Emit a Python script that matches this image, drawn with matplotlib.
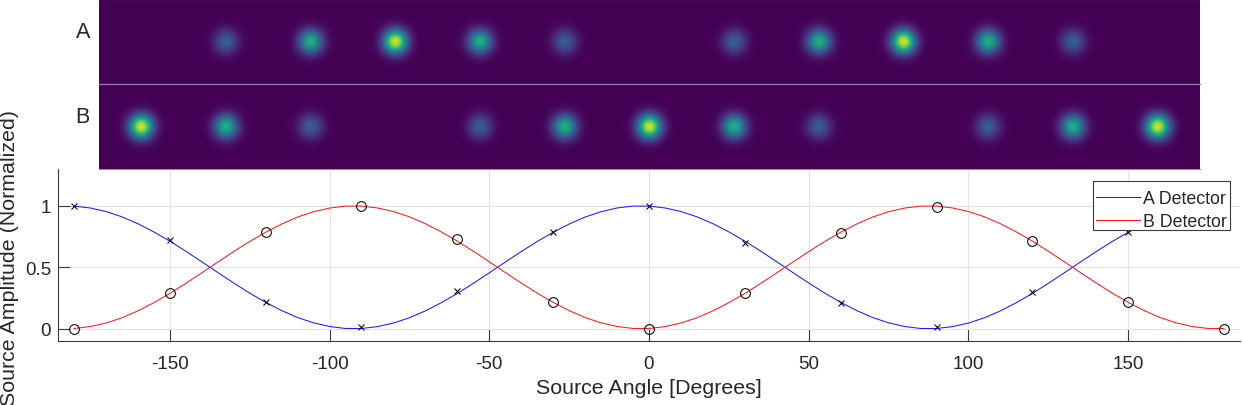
import numpy as np
import matplotlib
matplotlib.use("Agg")
import matplotlib.pyplot as plt
import matplotlib.transforms as mtransforms
from matplotlib.patches import Rectangle

plt.rcParams['font.family'] = ['Liberation Sans', 'DejaVu Sans']
plt.rcParams['axes.unicode_minus'] = False

# ---------------- data ----------------
# smooth detector response curves, read every 5 degrees
curve_angle = list(range(-180, 181, 5))
_a_half = [0.998, 0.983, 0.954, 0.911, 0.855, 0.788, 0.713, 0.631, 0.545, 0.458,
           0.372, 0.290, 0.215, 0.148, 0.091, 0.048, 0.018, 0.002, 0.002, 0.017,
           0.046, 0.089, 0.145, 0.212, 0.287, 0.369, 0.455, 0.542, 0.628, 0.710,
           0.785, 0.852, 0.909, 0.952, 0.983, 0.998]
_b_half = [0.002, 0.017, 0.046, 0.089, 0.145, 0.212, 0.287, 0.369, 0.455, 0.542,
           0.628, 0.710, 0.785, 0.852, 0.909, 0.952, 0.982, 0.998, 0.998, 0.983,
           0.954, 0.911, 0.855, 0.788, 0.713, 0.631, 0.545, 0.458, 0.372, 0.290,
           0.215, 0.148, 0.091, 0.048, 0.018, 0.002]
curve_A = _a_half + _a_half + [0.998]
curve_B = _b_half + _b_half + [0.002]

# measured samples every 30 degrees
meas_angle = [-180, -150, -120, -90, -60, -30, 0, 30, 60, 90, 120, 150, 180]
meas_A = [1.00, 0.72, 0.22, 0.01, 0.31, 0.79, 1.00, 0.70, 0.21, 0.01, 0.30, 0.79, 1.00]
meas_B = [0.00, 0.29, 0.79, 1.00, 0.73, 0.22, 0.00, 0.29, 0.78, 0.99, 0.71, 0.22, 0.00]

# spot intensities in the two detector images (13 cells each)
img_A = [0, 0.30, 0.62, 0.93, 0.62, 0.30, 0, 0.30, 0.62, 0.93, 0.62, 0.30, 0]
img_B = [0.93, 0.62, 0.30, 0, 0.30, 0.62, 0.93, 0.62, 0.30, 0, 0.30, 0.62, 0.93]

row_labels = ['A', 'B']
legend_labels = ['A Detector', 'B Detector']
xticks = [-150, -100, -50, 0, 50, 100, 150]
yticks = [0, 0.5, 1]
ytick_labels = ['0', '0.5', '1']

# ---------------- figure ----------------
W, H = 1242, 406
fig = plt.figure(figsize=(W / 100, H / 100), dpi=100)

def px_rect(x0, y0, x1, y1):
    return [x0 / W, 1 - y1 / H, (x1 - x0) / W, (y1 - y0) / H]

text_col = '#262626'
tick_fs = 13.6
label_fs = 15.4
legend_fs = 12.8

# main axes
ax = fig.add_axes(px_rect(58, 170, 1240, 342))
ax.plot(curve_angle, curve_A, color='#1a1aff', lw=0.75, label=legend_labels[0], zorder=2)
ax.plot(curve_angle, curve_B, color='#ff1a1a', lw=0.75, label=legend_labels[1], zorder=2)
ax.plot(meas_angle, meas_A, linestyle='none', marker='x', color='black',
        markersize=5, markeredgewidth=0.75, zorder=3)
ax.plot(meas_angle, meas_B, linestyle='none', marker='o', markerfacecolor='none',
        markeredgecolor='black', markersize=7, markeredgewidth=0.75, zorder=3)

ax.set_xlim(-185, 185)
ax.set_ylim(-0.1, 1.3)
ax.set_xticks(xticks)
ax.set_xticklabels([str(t) for t in xticks])
ax.set_yticks(yticks)
ax.set_yticklabels(ytick_labels)
ax.grid(True, color='#e3e3e3', lw=0.8)
ax.set_axisbelow(True)
for s in ['top', 'right']:
    ax.spines[s].set_visible(False)
for s in ['left', 'bottom']:
    ax.spines[s].set_color('#3a3a3a')
    ax.spines[s].set_linewidth(0.8)
ax.tick_params(axis='both', direction='in', length=8.6, width=0.8, color='#3a3a3a',
               labelsize=tick_fs, labelcolor=text_col)
ax.tick_params(axis='x', pad=10)
ax.tick_params(axis='y', pad=5)
ax.set_xlabel('Source Angle [Degrees]', fontsize=label_fs, color=text_col, labelpad=4.6)
ax.set_ylabel('Source Amplitude (Normalized)', fontsize=label_fs, color=text_col)
trans = mtransforms.blended_transform_factory(fig.transFigure, ax.transAxes)
ax.yaxis.set_label_coords(19 / W, 0.49, transform=trans)

# legend: white framed box, entries placed inside it
ax.add_patch(Rectangle((1093 / W, 1 - 230.7 / H), (1229.7 - 1093) / W, 49 / H,
                       transform=fig.transFigure, facecolor='white',
                       edgecolor='#3a3a3a', lw=0.8, zorder=9, clip_on=False))
leg = ax.legend(loc='upper right', bbox_to_anchor=(1226.5 / W, 1 - 190.8 / H),
                bbox_transform=fig.transFigure, fontsize=legend_fs, frameon=False,
                borderpad=0, labelspacing=0.375, handlelength=2.45,
                handletextpad=0.15, borderaxespad=0)
for t in leg.get_texts():
    t.set_color(text_col)
leg.set_zorder(10)

# detector images
res = 85
sigma = 8.3 / 84.7
def row_image(levels):
    n = len(levels)
    xs = (np.arange(n * res) + 0.5) / res
    ys = (np.arange(res) + 0.5) / res
    img = np.zeros((res, n * res))
    for k, v in enumerate(levels):
        img += v * np.exp(-((xs[None, :] - (k + 0.5)) ** 2 + (ys[:, None] - 0.5) ** 2)
                          / (2 * sigma ** 2))
    return img

for i, (levels, lab) in enumerate(zip([img_A, img_B], row_labels)):
    iax = fig.add_axes(px_rect(99, 85 * i, 1200, 85 * (i + 1)))
    iax.imshow(row_image(levels), cmap='viridis', vmin=0, vmax=1, aspect='auto',
               extent=[0, len(levels), 1, 0], interpolation='bilinear')
    iax.set_xticks([])
    iax.set_yticks([])
    for s in ['left', 'right']:
        iax.spines[s].set_visible(False)
    for s in ['top', 'bottom']:
        iax.spines[s].set_color('#9c84b0')
        iax.spines[s].set_linewidth(0.8)
    iax.text(-9 / 1101, 0.62, lab, transform=iax.transAxes, ha='right',
             va='center', fontsize=15.5, color=text_col)

fig.savefig('out.png', dpi=100)
